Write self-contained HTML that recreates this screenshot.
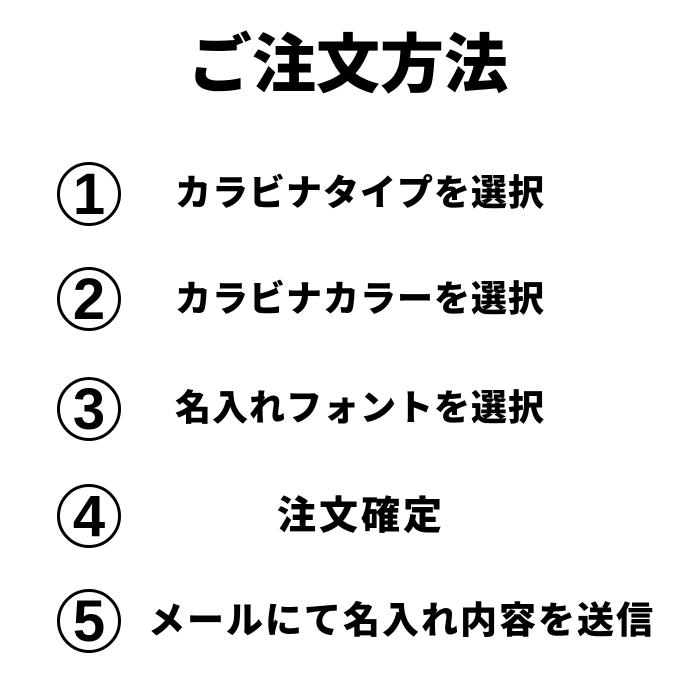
<!DOCTYPE html>
<html><head><meta charset="utf-8"><style>
body{margin:0;width:700px;height:700px;background:#fff;position:relative;overflow:hidden;font-family:"Liberation Sans","Noto Sans CJK JP",sans-serif;color:#000}
.t{position:absolute;white-space:nowrap;font-weight:900;line-height:1}
.c{position:absolute;width:58px;height:58px;border:3px solid #000;border-radius:50%;left:57px;text-align:center;font-weight:bold;font-size:58px;line-height:60px;font-family:"Liberation Sans",sans-serif}
</style></head><body>
<div class="t" style="left:188px;top:33px;font-size:64px;letter-spacing:0px">ご注文方法</div>

<div class="c" style="top:162px">1</div>
<div class="t" style="left:175px;top:175px;font-size:36px;letter-spacing:1px">カラビナタイプを選択</div>

<div class="c" style="top:267px">2</div>
<div class="t" style="left:175px;top:281px;font-size:36px;letter-spacing:1px">カラビナカラーを選択</div>

<div class="c" style="top:377px">3</div>
<div class="t" style="left:175px;top:390px;font-size:36px;letter-spacing:1px">名入れフォントを選択</div>

<div class="c" style="top:484px">4</div>
<div class="t" style="left:277px;top:497px;font-size:39px;letter-spacing:3px">注文確定</div>

<div class="c" style="top:589px">5</div>
<div class="t" style="left:148px;top:602px;font-size:37px;letter-spacing:2px">メールにて名入れ内容を送信</div>
</body></html>
